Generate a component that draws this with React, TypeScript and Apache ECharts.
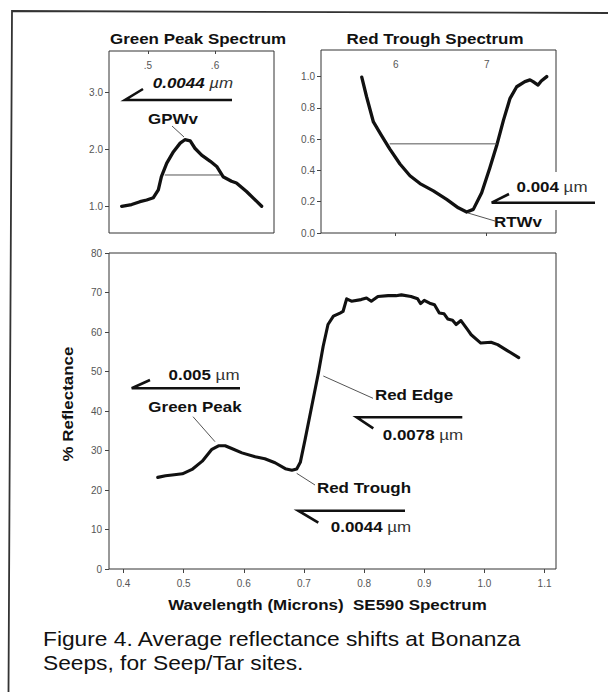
import React, { useEffect, useRef } from 'react';
import * as echarts from 'echarts';

const FONT = '"Liberation Sans", Arial, Helvetica, sans-serif';

// Main spectrum (SE590), wavelength in microns vs % reflectance
const MAIN_WL = [
  0.457, 0.470, 0.481, 0.498, 0.514, 0.531, 0.547, 0.558, 0.569, 0.580,
  0.597, 0.619, 0.635, 0.652, 0.669, 0.680, 0.688, 0.694, 0.702, 0.713,
  0.724, 0.732, 0.740, 0.749, 0.760, 0.765, 0.771, 0.779, 0.795, 0.804,
  0.812, 0.823, 0.840, 0.853, 0.862, 0.878, 0.889, 0.894, 0.900, 0.909,
  0.917, 0.925, 0.933, 0.939, 0.947, 0.953, 0.961, 0.972, 0.978, 0.994,
  1.011, 1.022, 1.038, 1.057,
];
const MAIN_REFL = [
  23.2, 23.6, 23.8, 24.1, 25.2, 27.3, 30.3, 31.2, 31.2, 30.5,
  29.4, 28.4, 27.9, 26.9, 25.4, 25.0, 25.3, 27.0, 32.8, 41.2,
  49.6, 56.4, 61.9, 64.0, 64.8, 65.2, 68.4, 67.8, 68.2, 68.6,
  67.8, 69.0, 69.2, 69.2, 69.4, 69.0, 68.4, 67.2, 68.0, 67.3,
  66.9, 64.8, 64.6, 63.3, 63.0, 61.9, 62.9, 60.6, 59.3, 57.2,
  57.4, 56.8, 55.3, 53.5,
];

// Green peak spectrum (normalised)
const GREEN_WL = [
  0.4607, 0.4756, 0.488, 0.498, 0.508, 0.5154, 0.520, 0.528, 0.538, 0.548,
  0.555, 0.563, 0.570, 0.580, 0.593, 0.6025, 0.612, 0.6246, 0.632, 0.647, 0.6696,
];
const GREEN_VAL = [
  1.0, 1.03, 1.08, 1.11, 1.15, 1.29, 1.52, 1.76, 1.96, 2.11,
  2.17, 2.15, 2.02, 1.90, 1.79, 1.70, 1.52, 1.44, 1.41, 1.26, 1.0,
];
const GREEN_FWHM_WL = [0.525, 0.6075];
const GREEN_FWHM_VAL = [1.55, 1.55];

// Red trough spectrum (normalised)
const RED_WL = [
  0.5627, 0.568, 0.5755, 0.5843, 0.5934, 0.6047, 0.6157, 0.6267, 0.6414, 0.656,
  0.6688, 0.678, 0.6853, 0.6945, 0.7036, 0.711, 0.7184, 0.7257, 0.733, 0.742,
  0.7476, 0.751, 0.7565, 0.760, 0.766,
];
const RED_VAL = [
  0.996, 0.871, 0.71, 0.624, 0.538, 0.441, 0.366, 0.316, 0.269, 0.215,
  0.161, 0.134, 0.151, 0.258, 0.419, 0.559, 0.72, 0.861, 0.935, 0.968,
  0.979, 0.968, 0.946, 0.972, 1.0,
];
const RED_FWHM_WL = [0.5934, 0.7111];
const RED_FWHM_VAL = [0.57, 0.57];

// Tick values
const MAIN_X_TICKS = [0.4, 0.5, 0.6, 0.7, 0.8, 0.9, 1.0, 1.1];
const GREEN_X_TICKS = [0.5, 0.6];
const GREEN_Y_TICKS = [1, 2, 3];
const RED_X_TICKS = [0.6, 0.7];
const RED_Y_TICKS = [0, 0.2, 0.4, 0.6, 0.8, 1.0];

const zip = (a: number[], b: number[]) => a.map((v, i) => [v, b[i]]);

const tickLabel = { color: '#555', fontSize: 10, fontFamily: FONT };
const tickLine = { color: '#444', width: 1 };

function T(x: number, y: number, text: string, opt: any = {}) {
  const size = opt.size ?? 15;
  const weight = opt.weight ?? 'bold';
  const fstyle = opt.fstyle ?? 'normal';
  const align = opt.align ?? 'center';
  return {
    type: 'text',
    x,
    y,
    z: 100,
    scaleX: opt.sx ?? 1.13,
    rotation: opt.rot ?? 0,
    style: {
      text,
      fill: opt.color ?? '#111',
      fontFamily: FONT,
      fontSize: size,
      fontWeight: weight,
      fontStyle: fstyle,
      align,
      textAlign: align,
      verticalAlign: 'middle',
      textVerticalAlign: 'middle',
      rich: {
        b: { fontFamily: FONT, fontSize: size, fontWeight: 'bold', fontStyle: fstyle, fill: '#111', color: '#111' },
        u: { fontFamily: FONT, fontSize: size, fontWeight: 'normal', fontStyle: fstyle, fill: '#333', color: '#333' },
      },
    },
  };
}

function P(points: number[][], width = 2.6, color = '#111') {
  return {
    type: 'polyline',
    z: 100,
    shape: { points },
    style: { stroke: color, lineWidth: width, fill: null, lineCap: 'butt', lineJoin: 'miter' },
  };
}

export default function App() {
  const ref = useRef<HTMLDivElement>(null);
  useEffect(() => {
    if (!ref.current) return;
    const chart = echarts.init(ref.current, null, { renderer: 'svg' });
    const gridBase = { show: true, borderColor: '#333', borderWidth: 1, backgroundColor: 'transparent', containLabel: false };
    const curveStyle = { color: '#111', width: 3.3, cap: 'round', join: 'round' };
    const option: any = {
      animation: false,
      backgroundColor: '#fff',
      grid: [
        { ...gridBase, left: 109, top: 51, width: 165, height: 182 },
        { ...gridBase, left: 321, top: 50, width: 235, height: 183 },
        { ...gridBase, left: 109, top: 253, width: 447, height: 316 },
      ],
      xAxis: [
        {
          gridIndex: 0, type: 'value', position: 'top', min: 0.4418, max: 0.688,
          axisLine: { show: false }, splitLine: { show: false },
          axisTick: { show: true, inside: true, length: 3, customValues: GREEN_X_TICKS, lineStyle: tickLine },
          axisLabel: { inside: true, margin: 9, customValues: GREEN_X_TICKS, formatter: (v: number) => '.' + Math.round(v * 10), ...tickLabel },
        },
        {
          gridIndex: 1, type: 'value', position: 'top', min: 0.5179, max: 0.7762,
          axisLine: { show: false }, splitLine: { show: false },
          axisTick: { show: true, inside: true, length: 3, customValues: RED_X_TICKS, lineStyle: tickLine },
          axisLabel: { inside: true, margin: 9, customValues: RED_X_TICKS, formatter: (v: number) => String(Math.round(v * 10)), ...tickLabel },
        },
        {
          gridIndex: 2, type: 'value', position: 'bottom', min: 0.376, max: 1.119,
          axisLine: { show: false }, splitLine: { show: false },
          axisTick: { show: true, inside: false, length: 4, customValues: MAIN_X_TICKS, lineStyle: tickLine },
          axisLabel: { margin: 9, customValues: MAIN_X_TICKS, formatter: (v: number) => v.toFixed(1), ...tickLabel },
        },
      ],
      yAxis: [
        {
          gridIndex: 0, type: 'value', min: 0.53, max: 3.73,
          axisLine: { show: false }, splitLine: { show: false },
          axisTick: { show: true, inside: false, length: 4, customValues: GREEN_Y_TICKS, lineStyle: tickLine },
          axisLabel: { margin: 6, customValues: GREEN_Y_TICKS, formatter: (v: number) => v.toFixed(1), ...tickLabel },
        },
        {
          gridIndex: 1, type: 'value', min: 0, max: 1.17,
          axisLine: { show: false }, splitLine: { show: false },
          axisTick: { show: true, inside: false, length: 4, customValues: RED_Y_TICKS, lineStyle: tickLine },
          axisLabel: { margin: 6, customValues: RED_Y_TICKS, formatter: (v: number) => v.toFixed(1), ...tickLabel },
        },
        {
          gridIndex: 2, type: 'value', min: 0, max: 80, interval: 10,
          axisLine: { show: false }, splitLine: { show: false },
          axisTick: { show: true, inside: false, length: 4, lineStyle: tickLine },
          axisLabel: { margin: 7, ...tickLabel },
        },
      ],
      series: [
        { type: 'line', xAxisIndex: 0, yAxisIndex: 0, data: zip(GREEN_WL, GREEN_VAL), showSymbol: false, symbol: 'none', lineStyle: curveStyle, silent: true },
        { type: 'line', xAxisIndex: 0, yAxisIndex: 0, data: zip(GREEN_FWHM_WL, GREEN_FWHM_VAL), showSymbol: false, symbol: 'none', lineStyle: { color: '#555', width: 1 }, silent: true },
        { type: 'line', xAxisIndex: 1, yAxisIndex: 1, data: zip(RED_WL, RED_VAL), showSymbol: false, symbol: 'none', lineStyle: curveStyle, silent: true },
        { type: 'line', xAxisIndex: 1, yAxisIndex: 1, data: zip(RED_FWHM_WL, RED_FWHM_VAL), showSymbol: false, symbol: 'none', lineStyle: { color: '#555', width: 1 }, silent: true },
        { type: 'line', xAxisIndex: 2, yAxisIndex: 2, data: zip(MAIN_WL, MAIN_REFL), showSymbol: false, symbol: 'none', lineStyle: { ...curveStyle, width: 3.1 }, silent: true },
      ],
      graphic: {
        elements: [
          // outer frame
          P([[608, 13], [12, 11], [8.5, 692]], 1.8, '#333'),
          // titles
          T(198, 39, 'Green Peak Spectrum'),
          T(435, 39, 'Red Trough Spectrum'),
          // green sub-plot annotations
          T(193, 83, '{b|0.0044} {u|µm}', { fstyle: 'italic' }),
          P([[143, 89], [125, 100], [232, 100]]),
          T(173, 119, 'GPWv'),
          P([[172, 126], [184, 137]], 1, '#555'),
          // red sub-plot annotations
          { type: 'rect', z: 90, shape: { x: 552, y: 172, width: 8, height: 38 }, style: { fill: '#fff' } },
          T(552, 187, '{b|0.004} {u|µm}'),
          P([[509, 194], [491.7, 202.7], [595, 202.7]]),
          T(518, 222, 'RTWv'),
          P([[468, 213], [495, 221]], 1, '#555'),
          // main plot annotations
          T(204, 375, '{b|0.005} {u|µm}'),
          P([[150, 380], [131.7, 388.3], [240, 388.3]]),
          T(195, 406.7, 'Green Peak'),
          P([[193, 416.7], [215, 441.7]], 1, '#555'),
          T(414, 395, 'Red Edge'),
          P([[373, 398.3], [323.3, 376]], 1, '#555'),
          P([[373.3, 428.3], [356.7, 417.3], [462.3, 417.3]]),
          T(423, 435, '{b|0.0078} {u|µm}'),
          T(364, 488.3, 'Red Trough'),
          P([[315, 485], [296.7, 473.3]], 1, '#555'),
          P([[318.3, 522.7], [298.3, 510.7], [405, 510.7]]),
          T(371, 527.3, '{b|0.0044} {u|µm}'),
          // axis titles
          T(68, 404, '% Reflectance', { rot: Math.PI / 2 }),
          T(327.5, 605, 'Wavelength (Microns)  SE590 Spectrum'),
          // caption
          T(43, 638.7, 'Figure 4. Average reflectance shifts at Bonanza', { size: 20.5, weight: 'normal', align: 'left', sx: 1.11, color: '#111' }),
          T(43, 662.8, 'Seeps, for Seep/Tar sites.', { size: 20.5, weight: 'normal', align: 'left', sx: 1.11, color: '#111' }),
        ],
      },
    };
    chart.setOption(option);
    return () => chart.dispose();
  }, []);
  return (
    <div
      ref={ref}
      style={{ position: 'absolute', left: 0, top: 0, width: 608, height: 692, background: '#fff' }}
    />
  );
}
